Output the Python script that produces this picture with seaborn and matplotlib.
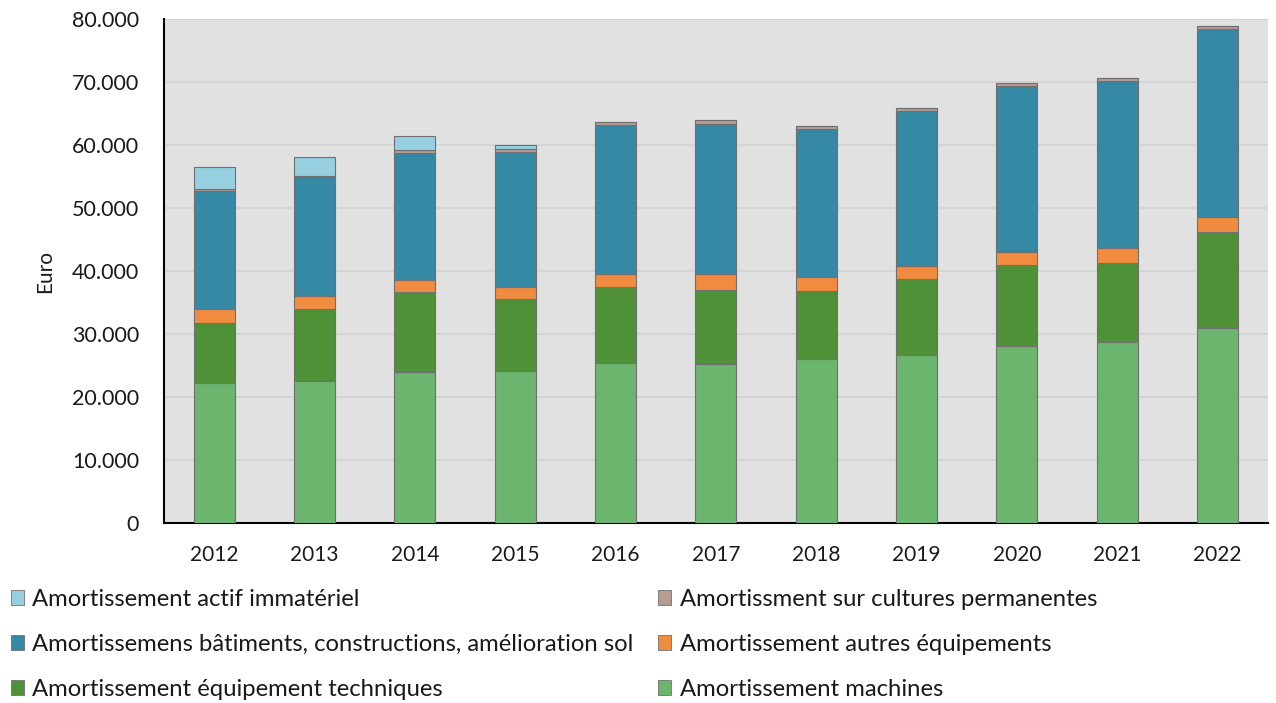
import matplotlib
matplotlib.use("Agg")
import matplotlib.pyplot as plt
import seaborn as sns
import numpy as np
from matplotlib.patches import Patch
from matplotlib.ticker import FuncFormatter

# Data (Euro per year)
years = ["2012", "2013", "2014", "2015", "2016", "2017", "2018", "2019", "2020", "2021", "2022"]
machines = [22200, 22600, 23900, 24100, 25400, 25200, 26000, 26700, 28100, 28700, 31000]
equip_tech = [9600, 11400, 12700, 11400, 12000, 11800, 10800, 12000, 12900, 12600, 15200]
autres_equip = [2100, 2000, 1900, 2000, 2200, 2500, 2300, 2100, 2000, 2300, 2400]
batiments = [18800, 18900, 20300, 21400, 23600, 23900, 23400, 24600, 26400, 26600, 29800]
cultures = [300, 200, 400, 400, 500, 600, 500, 400, 400, 500, 500]
immateriel = [3500, 3000, 2300, 700, 0, 0, 0, 0, 0, 0, 0]

series = [
    ("Amortissement machines", machines, "#6bb56e"),
    ("Amortissement équipement techniques", equip_tech, "#4f9137"),
    ("Amortissement autres équipements", autres_equip, "#f08b3f"),
    ("Amortissemens bâtiments, constructions, amélioration sol", batiments, "#3589a5"),
    ("Amortissment sur cultures permanentes", cultures, "#b89c90"),
    ("Amortissement actif immatériel", immateriel, "#96cfe0"),
]

sns.set_style("whitegrid")
plt.rcParams['font.family'] = ['Lato', 'DejaVu Sans']

fig = plt.figure(figsize=(12.76, 7.03), dpi=100)
ax = fig.add_axes([0.1285, 0.256, 0.865, 0.717])
ax.set_facecolor("#e1e1e1")

bottom = np.zeros(len(years))
for label, vals, col in series:
    sns.barplot(x=years, y=vals, bottom=bottom, color=col, saturation=1, width=0.41,
                edgecolor="#707070", linewidth=0.8, errorbar=None,
                legend=False, ax=ax, zorder=3)
    bottom = bottom + np.array(vals)

ax.set_ylim(0, 80000)
ax.set_yticks(range(0, 80001, 10000))
ax.yaxis.set_major_formatter(FuncFormatter(lambda v, p: f"{int(v):,}".replace(",", ".")))
ax.grid(axis="y", color="#d2d2d2", linewidth=1.2, zorder=0)
ax.grid(axis="x", visible=False)
ax.set_axisbelow(True)
for s in ["top", "right"]:
    ax.spines[s].set_visible(False)
for s in ["left", "bottom"]:
    ax.spines[s].set_visible(True)
    ax.spines[s].set_color("black")
    ax.spines[s].set_linewidth(1.5)
ax.tick_params(axis="y", labelsize=15.5, colors="#1a1a1a", length=0, pad=18)
ax.tick_params(axis="x", labelsize=15, colors="#1a1a1a", length=0, pad=16)
ax.set_xlabel("")
ax.set_ylabel("Euro", fontsize=15, color="#1a1a1a", labelpad=12)

# legend: 2 columns, order as in the original
names = [s[0] for s in series]
cols = [s[2] for s in series]
order = [5, 3, 1, 4, 2, 0]
handles = [Patch(facecolor=cols[i], edgecolor="#707070", linewidth=0.6) for i in order]
labels = [names[i] for i in order]
leg = fig.legend(handles, labels, ncol=2, loc="upper left", bbox_to_anchor=(0.0085, 0.162),
                 frameon=False, fontsize=17.2, handlelength=0.55, handleheight=0.55,
                 handletextpad=0.35, columnspacing=1.03, labelspacing=1.0,
                 borderaxespad=0, borderpad=0)
for t in leg.get_texts():
    t.set_color("#1a1a1a")

fig.savefig("out.png", dpi=100)
